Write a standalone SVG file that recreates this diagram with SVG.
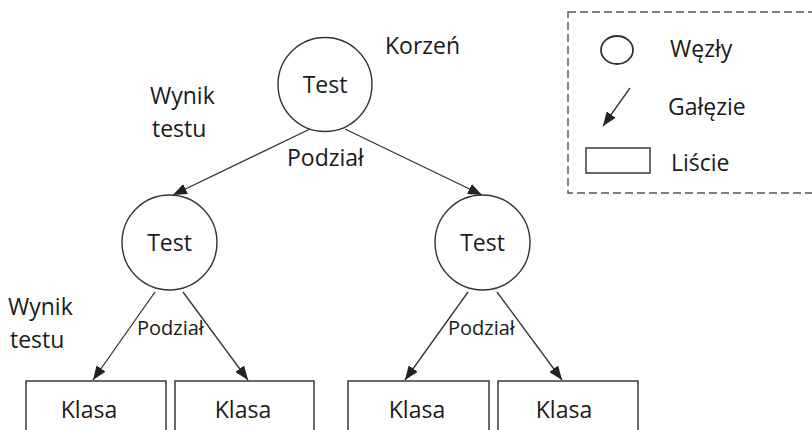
<svg xmlns="http://www.w3.org/2000/svg" width="812" height="430" viewBox="0 0 812 430">
  <style>
    .node { fill: #fff; stroke: #333; stroke-width: 1.4; }
    .leaf { fill: #fff; stroke: #444; stroke-width: 1.6; }
    .edge { stroke: #333; stroke-width: 1.3; fill: none; marker-end: url(#arrow); }
    .t { font-family: "Open Sans", "Noto Sans", sans-serif; fill: #1a1a1a; }
    .md { font-size: 23px; }
    .sm { font-size: 20px; }
    .c { text-anchor: middle; }
    .legend { fill: none; stroke: #555; stroke-width: 1.4; stroke-dasharray: 8 4; }
  </style>
  <defs>
    <marker id="arrow" markerUnits="userSpaceOnUse" markerWidth="15" markerHeight="11" refX="14" refY="5.5" orient="auto">
      <path d="M0,0 L14,5.5 L0,11 z" fill="#222"/>
    </marker>
  </defs>

  <rect width="812" height="430" fill="#fff"/>

  <!-- legend -->
  <g id="legend">
    <rect class="legend" x="568" y="12" width="260" height="181"/>
    <ellipse cx="617" cy="50" rx="16" ry="14" fill="none" stroke="#333" stroke-width="1.8"/>
    <text class="t md" x="670" y="57">Węzły</text>
    <line x1="630" y1="88" x2="603" y2="126" stroke="#333" stroke-width="1.3" marker-end="url(#arrow)"/>
    <text class="t md" x="668" y="115">Gałęzie</text>
    <rect x="586" y="148" width="64" height="25" fill="#fff" stroke="#444" stroke-width="1.6"/>
    <text class="t md" x="671" y="171">Liście</text>
  </g>

  <!-- connectors -->
  <g id="edges">
    <line class="edge" x1="310" y1="129" x2="173" y2="195"/>
    <line class="edge" x1="345" y1="129" x2="482" y2="195"/>
    <line class="edge" x1="155" y1="292" x2="93" y2="380"/>
    <line class="edge" x1="183" y1="292" x2="248" y2="380"/>
    <line class="edge" x1="468" y1="292" x2="405" y2="380"/>
    <line class="edge" x1="497" y1="292" x2="562" y2="380"/>
  </g>

  <!-- annotations -->
  <g id="labels">
    <text class="t md" x="385" y="54">Korzeń</text>
    <text class="t md" x="150" y="104">Wynik</text>
    <text class="t md" x="152" y="137">testu</text>
    <text class="t md" x="287" y="166">Podział</text>
    <text class="t md" x="8" y="315">Wynik</text>
    <text class="t md" x="10" y="348">testu</text>
    <text class="t sm" x="137" y="335">Podział</text>
    <text class="t sm" x="448" y="335">Podział</text>
  </g>

  <!-- test nodes -->
  <g id="root">
    <circle class="node" cx="325" cy="84.5" r="47"/>
    <text class="t md c" x="325" y="93">Test</text>
  </g>
  <g id="test-left">
    <circle class="node" cx="169.5" cy="242.5" r="47.5"/>
    <text class="t md c" x="169.5" y="251">Test</text>
  </g>
  <g id="test-right">
    <circle class="node" cx="482.5" cy="242.5" r="47.5"/>
    <text class="t md c" x="482.5" y="251">Test</text>
  </g>

  <!-- leaves -->
  <g id="leaf-1">
    <rect class="leaf" x="26" y="381" width="140" height="60"/>
    <text class="t md c" x="89" y="418">Klasa</text>
  </g>
  <g id="leaf-2">
    <rect class="leaf" x="175" y="381" width="139" height="60"/>
    <text class="t md c" x="243" y="418">Klasa</text>
  </g>
  <g id="leaf-3">
    <rect class="leaf" x="348" y="381" width="141" height="60"/>
    <text class="t md c" x="417" y="418">Klasa</text>
  </g>
  <g id="leaf-4">
    <rect class="leaf" x="498" y="381" width="140" height="60"/>
    <text class="t md c" x="564" y="418">Klasa</text>
  </g>
</svg>
